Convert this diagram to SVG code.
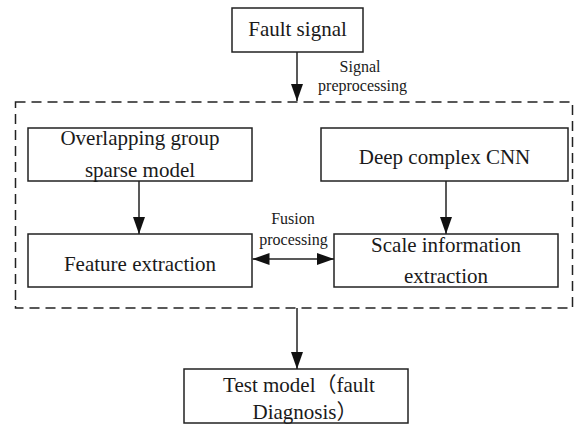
<svg xmlns="http://www.w3.org/2000/svg" width="574" height="424" viewBox="0 0 574 424" font-family="'Liberation Serif', 'DejaVu Serif', serif">
<style>
.box{fill:#fff;stroke:#222;stroke-width:1.5}
.t{font-family:'Liberation Serif','DejaVu Serif','Noto Sans CJK SC',serif;font-size:21px;fill:#1a1a1a;text-anchor:middle}
.s{font-family:'Liberation Serif','DejaVu Serif',serif;font-size:16px;fill:#1a1a1a;text-anchor:middle}
.c{stroke:#222;stroke-width:1.5;fill:none}
.dash{fill:none;stroke:#222;stroke-width:1.5;stroke-dasharray:10 6}
</style>
<defs>
<marker id="ah" viewBox="0 0 17 12" refX="17" refY="6" markerWidth="17" markerHeight="12" markerUnits="userSpaceOnUse" orient="auto-start-reverse">
<path d="M0,0 L17,6 L0,12 z" fill="#111"/>
</marker>
</defs>
<rect id="container" class="dash" x="15.5" y="102" width="557" height="206"/>
<g id="fault-signal"><rect class="box" x="232" y="8" width="131" height="44"/><text class="t" x="297.5" y="36">Fault signal</text></g>
<g id="overlapping"><rect class="box" x="28" y="128" width="224" height="53"/><text class="t" x="140" y="145">Overlapping group</text><text class="t" x="140" y="177">sparse model</text></g>
<g id="deep-cnn"><rect class="box" x="321" y="128" width="247" height="53"/><text class="t" x="444.5" y="164">Deep complex  CNN</text></g>
<g id="feature"><rect class="box" x="28" y="234" width="224" height="53"/><text class="t" x="140" y="270.5">Feature extraction</text></g>
<g id="scale"><rect class="box" x="334" y="234" width="224" height="53"/><text class="t" x="446" y="252">Scale information</text><text class="t" x="446" y="282.5">extraction</text></g>
<g id="test-model"><rect class="box" x="184" y="369" width="224" height="54"/><text class="t" x="299" y="392">Test model（fault</text><text class="t" x="305" y="419">Diagnosis）</text></g>
<g id="connectors">
<line class="c" x1="297" y1="52" x2="297" y2="101" marker-end="url(#ah)"/>
<line class="c" x1="139" y1="181" x2="139" y2="234" marker-end="url(#ah)"/>
<line class="c" x1="446" y1="181" x2="446" y2="234" marker-end="url(#ah)"/>
<line class="c" x1="252.5" y1="259" x2="334" y2="259" marker-start="url(#ah)" marker-end="url(#ah)"/>
<line class="c" x1="297" y1="308" x2="297" y2="369" marker-end="url(#ah)"/>
<text class="s" x="360" y="72">Signal</text>
<text class="s" x="362.5" y="91">preprocessing</text>
<text class="s" x="293" y="224">Fusion</text>
<text class="s" x="293.5" y="245">processing</text>
</g>
</svg>
